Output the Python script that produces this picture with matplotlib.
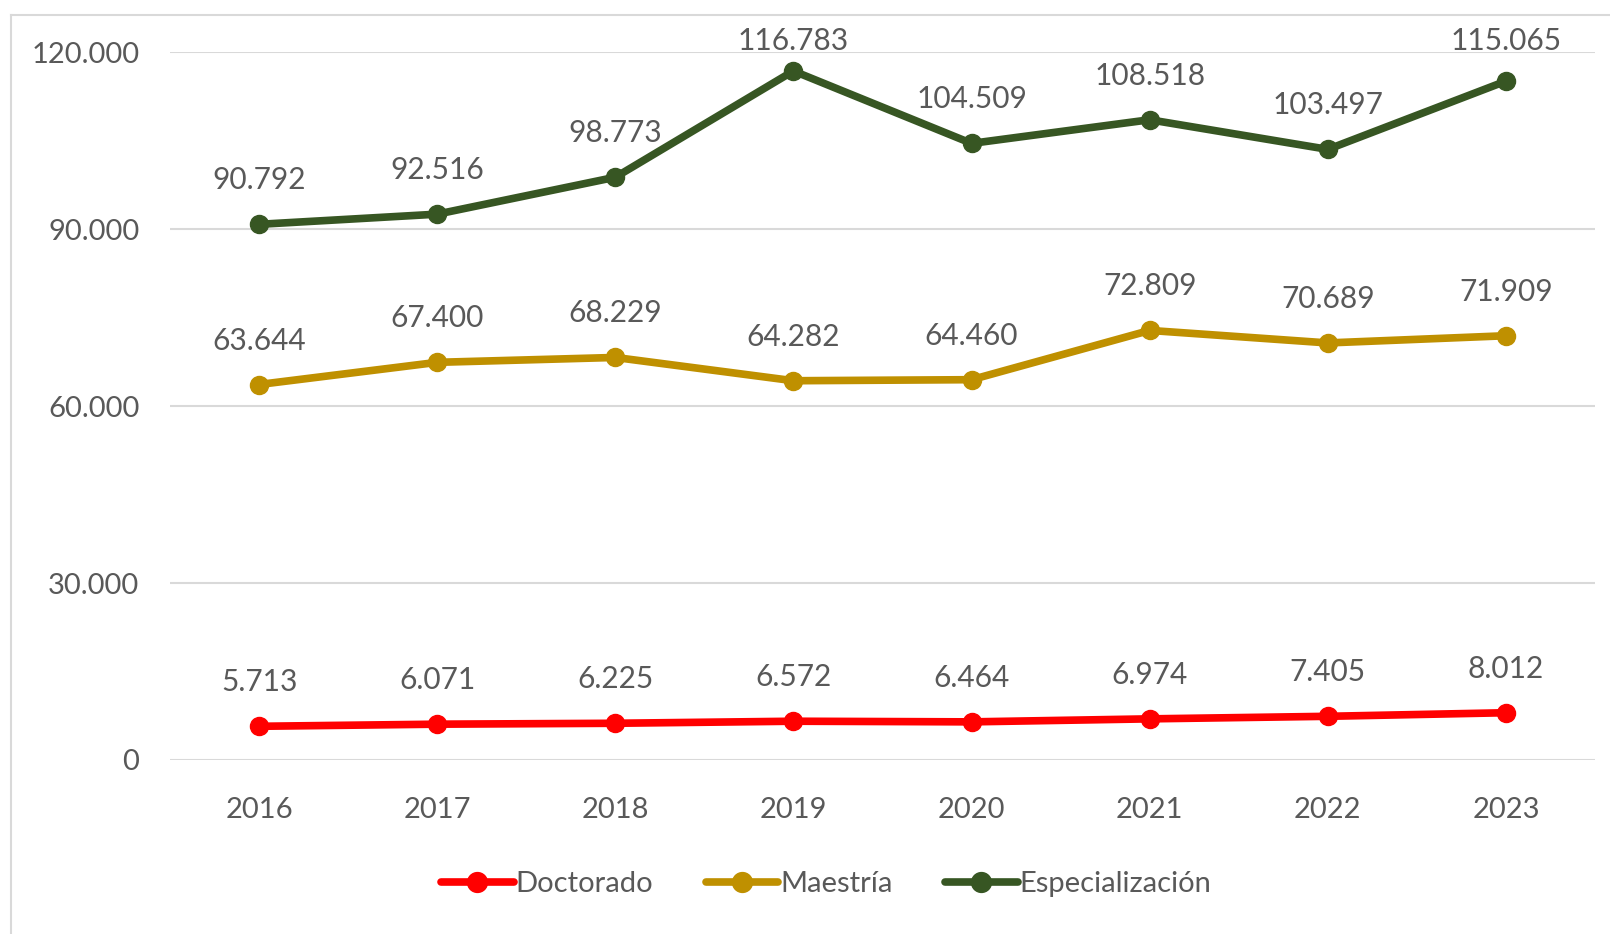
import matplotlib
matplotlib.use("Agg")
import matplotlib.pyplot as plt
from matplotlib.lines import Line2D

years = ["2016", "2017", "2018", "2019", "2020", "2021", "2022", "2023"]
doctorado = [5713, 6071, 6225, 6572, 6464, 6974, 7405, 8012]
maestria = [63644, 67400, 68229, 64282, 64460, 72809, 70689, 71909]
especializacion = [90792, 92516, 98773, 116783, 104509, 108518, 103497, 115065]
yticks = [0, 30000, 60000, 90000, 120000]

RED = "#FF0000"
GOLD = "#BF9000"
GREEN = "#375623"
TEXT = "#595959"

W, H = 1610, 934

plt.rcParams["font.family"] = ["Lato", "DejaVu Sans"]


def fmt(v):
    return f"{v:,}".replace(",", ".")


fig = plt.figure(figsize=(W / 100, H / 100), dpi=100)
ax = fig.add_axes([170 / W, 1 - 760 / H, (1595 - 170) / W, (760 - 52) / H])
ax.set_xlim(-0.5, len(years) - 0.5)
ax.set_ylim(0, 120000)

x = range(len(years))
series = [("Doctorado", doctorado, RED), ("Maestría", maestria, GOLD),
          ("Especialización", especializacion, GREEN)]
for name, vals, col in series:
    ax.plot(x, vals, color=col, lw=5.5, marker="o", ms=13, label=name,
            solid_capstyle="round", clip_on=False, zorder=3)
    for i, v in enumerate(vals):
        # labels sit above the point, but are pushed down to stay inside the chart
        px, py = ax.transData.transform((i, v))
        ty = min(py + 44, H - 41)
        ax.annotate(fmt(v), (i, v), xytext=(px, ty), textcoords="figure pixels",
                    ha="center", va="center", fontsize=21.5, color=TEXT,
                    annotation_clip=False)

ax.set_xticks(list(x))
ax.set_xticklabels(years)
ax.set_yticks(yticks)
ax.set_yticklabels([fmt(v) for v in yticks])
ax.tick_params(length=0, labelsize=21, colors=TEXT)
ax.tick_params(axis="x", pad=27)
ax.tick_params(axis="y", pad=22)
ax.grid(axis="y", color="#D9D9D9", lw=1.5)
ax.set_axisbelow(True)
for s in ax.spines.values():
    s.set_visible(False)

# chart frame
fig.add_artist(Line2D([11 / W, 11 / W], [0, 1 - 15 / H], color="#D9D9D9", lw=1.5))
fig.add_artist(Line2D([11 / W, 1], [1 - 15 / H, 1 - 15 / H], color="#D9D9D9", lw=1.5))

fig.legend(loc="center", bbox_to_anchor=(826 / W, 1 - 884 / H), ncol=3,
           frameon=False, fontsize=21, handlelength=2.5, handletextpad=0.05,
           columnspacing=1.8, labelcolor=TEXT, markerscale=1.1)

fig.savefig("out.png", dpi=100)
